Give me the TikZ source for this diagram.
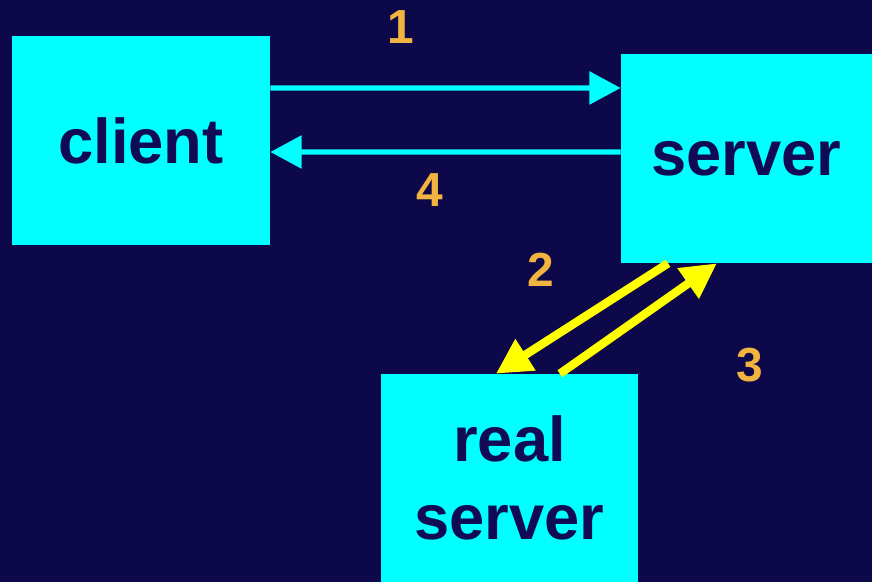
\documentclass[tikz,border=0pt]{standalone}
\usepackage{fontspec}
\setmainfont{Liberation Sans}
\usepackage{tikz}
\usetikzlibrary{arrows.meta}

\definecolor{navy}{HTML}{0D0849}
\definecolor{aqua}{HTML}{00FFFF}
\definecolor{boxtext}{HTML}{110A55}
\definecolor{numorange}{HTML}{F2B440}
\definecolor{yel}{HTML}{FFFF00}

\begin{document}
\begin{tikzpicture}[x=0.025cm,y=-0.025cm]
\tikzstyle{block}=[fill=aqua, inner sep=0pt, text=boxtext, align=center, font=\fontsize{45}{55}\selectfont\bfseries]
\tikzstyle{num}=[text=numorange, font=\fontsize{34}{38}\selectfont\bfseries]
\tikzstyle{cyanarrow}=[draw=aqua, line width=3.8pt, -{Triangle[length=0.78cm,width=0.8cm]}]
\tikzstyle{yelarrow}=[draw=yel, line width=6pt, -{Triangle[length=0.88cm,width=0.88cm]}]

\fill[navy] (0,0) rectangle (872,582);
\useasboundingbox (0,0) rectangle (872,582);

\node[block, minimum width=6.45cm, minimum height=5.225cm] (client) at (141,140.5) {client};
\node[block, minimum width=6.275cm, minimum height=5.225cm] (srv) at (746.5,158.5) {server};
\node[block, minimum width=6.425cm, minimum height=5.2cm] (real) at (509.5,478) {real\\server};

\node[num] (l1) at (401,27) {1};
\node[num] (l2) at (541,270) {2};
\node[num] (l3) at (750,365) {3};
\node[num] (l4) at (430,190) {4};

\draw[cyanarrow] ([yshift=1.3125cm]client.east) -- ([yshift=1.7625cm]srv.west);
\draw[cyanarrow] ([yshift=0.1625cm]srv.west) -- ([yshift=-0.2875cm]client.east);
\draw[yelarrow] ([xshift=-1.96cm]srv.south) -- ([xshift=-0.34cm]real.north);
\draw[yelarrow] ([xshift=1.26cm]real.north) -- ([xshift=-0.74cm]srv.south);
\end{tikzpicture}
\end{document}
